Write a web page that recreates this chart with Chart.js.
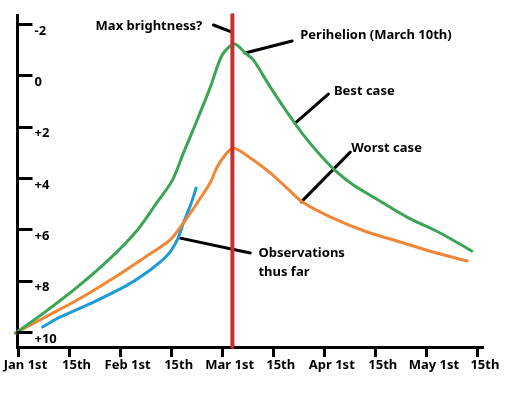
<!DOCTYPE html>
<html><head><meta charset="utf-8">
<script src="https://cdn.jsdelivr.net/npm/chart.js@4/dist/chart.umd.min.js"></script>
<style>html,body{margin:0;padding:0;background:#fff;}</style>
</head><body>
<canvas id="c" width="514" height="396"></canvas>
<script>
// Tick labels
const xTickLabels = ["Jan 1st","15th","Feb 1st","15th","Mar 1st","15th","Apr 1st","15th","May 1st","15th"];
const yTickValues = [-2, 0, 2, 4, 6, 8, 10];
const yTickLabels = ["-2", "0", "+2", "+4", "+6", "+8", "+10"];

// x positions are in units of x tick marks (0 = Jan 1st ... 9 = May 15th); y = magnitude
const bestX   = [-0.06,0.49,1.15,1.80,2.33,2.72,3.01,3.23,3.50,3.76,3.99,4.23,4.44,4.60,4.93,5.26,5.58,5.91,6.24,6.56,6.95,7.61,8.26,8.88];
const bestMag = [10.04,9.26,8.25,7.12,6.02,4.93,4.10,3.03,1.74,0.45,-0.79,-1.22,-0.87,-0.60,0.45,1.43,2.32,3.10,3.77,4.27,4.74,5.52,6.14,6.84];

const worstX   = [-0.06,0.49,1.15,1.80,2.45,2.97,3.23,3.50,3.76,3.89,4.05,4.21,4.60,4.93,5.26,5.56,6.16,6.83,7.48,8.12,8.79];
const worstMag = [10.04,9.45,8.75,7.97,7.12,6.41,5.75,4.97,4.16,3.57,3.10,2.83,3.30,3.80,4.39,4.93,5.56,6.10,6.49,6.88,7.23];

const obsX   = [0.47,0.82,1.47,2.13,2.58,2.92,3.11,3.23,3.37,3.48];
const obsMag = [9.80,9.41,8.83,8.17,7.58,7.00,6.41,5.75,5.05,4.39];

const perihelionX = 4.19;
const yMin = -2.35, yMax = 10.58;
const xMin = -0.02, xMax = 9.1;

// Annotation pointers: [x1, mag1, x2, mag2]
const pointers = [
  [3.82, -1.96, 4.17, -1.69],
  [4.44, -0.87, 5.36, -1.34],
  [5.42, 1.86, 6.07, 0.73],
  [5.54, 4.93, 6.50, 2.99],
  [3.17, 6.34, 4.54, 6.92]
];
// Annotation texts: [text, x, mag]
const notes = [
  ["Max brightness?", 1.51, -1.92],
  ["Perihelion (March 10th)", 5.52, -1.57],
  ["Best case", 6.18, 0.61],
  ["Worst case", 6.52, 2.83],
  ["Observations", 4.70, 6.92],
  ["thus far", 4.70, 7.66]
];

const FONT = "'Noto Sans', 'DejaVu Sans', sans-serif";
const zip = (xs, ys) => xs.map((x, i) => ({x: x, y: ys[i]}));

const datasets = [
  {data: [{x: perihelionX, y: yMin}, {x: perihelionX, y: yMax}], borderColor: 'rgb(205,45,45)', borderWidth: 4},
  {data: zip(bestX, bestMag), borderColor: 'rgb(60,165,85)', borderWidth: 3, tension: 0.3},
  {data: zip(worstX, worstMag), borderColor: 'rgb(240,135,55)', borderWidth: 3, tension: 0.3},
  {data: zip(obsX, obsMag), borderColor: 'rgb(30,155,215)', borderWidth: 3, tension: 0.3}
];
pointers.forEach(p => datasets.push({
  data: [{x: p[0], y: p[1]}, {x: p[2], y: p[3]}], borderColor: '#000', borderWidth: 3
}));

const notesPlugin = {
  id: 'notes',
  afterDraw(chart) {
    const ctx = chart.ctx, xs = chart.scales.x, ys = chart.scales.y;
    const left = chart.chartArea.left;
    ctx.save();
    // inward tick marks on the y axis
    ctx.strokeStyle = '#000';
    ctx.lineWidth = 3;
    ctx.lineCap = 'butt';
    yTickValues.forEach(v => {
      const py = Math.round(ys.getPixelForValue(v)) + 0.5;
      ctx.beginPath();
      ctx.moveTo(left - 1, py);
      ctx.lineTo(left + 15, py);
      ctx.stroke();
    });
    ctx.font = "bold 13px " + FONT;
    ctx.fillStyle = '#000';
    ctx.textAlign = 'left';
    ctx.textBaseline = 'middle';
    notes.forEach(n => ctx.fillText(n[0], xs.getPixelForValue(n[1]), ys.getPixelForValue(n[2])));
    ctx.restore();
  }
};

new Chart(document.getElementById('c'), {
  type: 'line',
  data: {datasets: datasets},
  options: {
    responsive: false,
    animation: false,
    layout: {padding: {top: 15, right: 31, left: 0, bottom: 0}},
    plugins: {legend: {display: false}, tooltip: {enabled: false}},
    elements: {point: {radius: 0}, line: {borderCapStyle: 'round', borderJoinStyle: 'round', fill: false}},
    clip: false,
    scales: {
      x: {
        type: 'linear', min: xMin, max: xMax,
        afterBuildTicks: s => { s.ticks = xTickLabels.map((_, i) => ({value: i})); },
        afterFit: s => { s.height = 49; s.paddingLeft = 0; s.paddingRight = 0; s.paddingTop = 0; s.paddingBottom = 0; },
        border: {display: true, color: '#000', width: 3},
        grid: {drawOnChartArea: false, drawTicks: true, tickLength: 10, tickWidth: 3, tickColor: '#000'},
        ticks: {
          callback: (v) => xTickLabels[Math.round(v)],
          font: {family: FONT, size: 13, weight: 'bold'}, color: '#000',
          padding: 0, labelOffset: 7, maxRotation: 0, autoSkip: false
        }
      },
      y: {
        type: 'linear', reverse: true, min: yMin, max: yMax,
        afterBuildTicks: s => { s.ticks = yTickValues.map(v => ({value: v})); },
        afterFit: s => { s.width = 17.5; s.paddingLeft = 0; s.paddingRight = 0; s.paddingTop = 0; s.paddingBottom = 0; },
        border: {display: true, color: '#000', width: 3},
        grid: {drawOnChartArea: false, drawTicks: false},
        ticks: {
          callback: (v) => yTickLabels[yTickValues.indexOf(v)],
          mirror: true, padding: 17, labelOffset: 7,
          font: {family: FONT, size: 13, weight: 'bold'}, color: '#000', autoSkip: false
        }
      }
    }
  },
  plugins: [notesPlugin]
});
</script>
</body></html>
